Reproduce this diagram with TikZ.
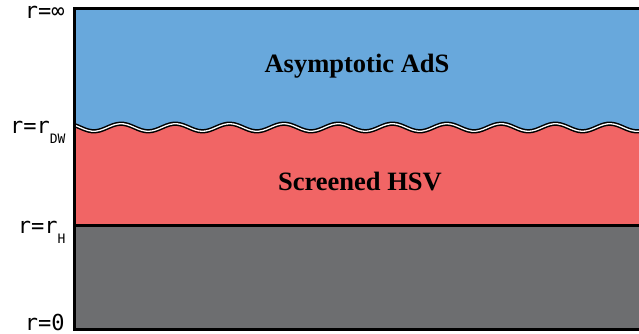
\documentclass[tikz,border=0pt]{standalone}
\usepackage{fontspec}
\usepackage{tikz}
\newfontfamily\labelfont{DejaVu Sans Mono}
\newfontfamily\regionfont{Liberation Serif}
\definecolor{adsblue}{RGB}{104,168,220}
\definecolor{hsvred}{RGB}{241,101,101}
\definecolor{horizongray}{RGB}{109,110,112}
\newcommand{\sublabel}[1]{{\fontsize{13}{13}\selectfont\raisebox{-10pt}{#1}}}

\begin{document}
\begin{tikzpicture}
	[x=1pt,y=-1pt,line width=3pt,line join=miter,
	 level/.style={font=\labelfont\fontsize{22}{22}\selectfont,anchor=base east,inner sep=0pt},
	 region/.style={font=\regionfont\bfseries\fontsize{26.5}{26.5}\selectfont,anchor=base,inner sep=0pt},
	 wall/.style={line width=1.5pt,double=white,double distance=1.3pt}]
\useasboundingbox (0,0) rectangle (639,334);
\coordinate (top_l) at (74,8.8);
\coordinate (top_r) at (639,8.8);
\coordinate (hor_l) at (74,225);
\coordinate (hor_r) at (639,225);
\coordinate (bot_l) at (74,329);
\coordinate (bot_r) at (639,329);

% regions
\fill[adsblue] (top_l) rectangle (639,140);
\fill[hsvred] (hor_l) -- plot[domain=74:639,samples=160,smooth] (\x,{127.5-3.8*cos((\x-121)/54.3*360)}) -- (hor_r) -- cycle;
\fill[horizongray] (hor_l) rectangle (bot_r);

% domain wall
\draw[wall] plot[domain=74:639,samples=160,smooth] (\x,{127.5-3.8*cos((\x-121)/54.3*360)});

% edges
\draw (top_r) -- (top_l) -- (bot_l) -- (bot_r);
\draw (hor_l) -- (hor_r);

\node[region](ads) at (357,73){Asymptotic AdS};
\node[region](hsv) at (360,190){Screened HSV};

\node[level](r_inf) at (66,19){r=∞};
\node[level](r_dw) at (67,133){r=r\sublabel{DW}};
\node[level](r_h) at (67,233){r=r\sublabel{H}};
\node[level](r_0) at (66,330){r=0};
\end{tikzpicture}
\end{document}
